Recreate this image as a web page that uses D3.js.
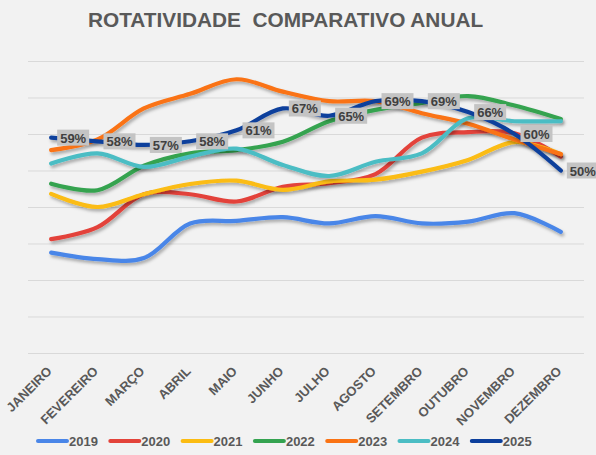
<!DOCTYPE html>
<html>
<head>
<meta charset="utf-8">
<script src="https://cdn.jsdelivr.net/npm/d3@7/dist/d3.min.js"></script>
<style>
  body { margin: 0; background: #f2f2f2; }
  text { font-family: "Liberation Sans", Arial, sans-serif; }
</style>
</head>
<body>
<div class="chart"></div>
<script>
// dados (%)
var meses = ['JANEIRO','FEVEREIRO','MARÇO','ABRIL','MAIO','JUNHO','JULHO','AGOSTO','SETEMBRO','OUTUBRO','NOVEMBRO','DEZEMBRO'];
var anos = ['2019','2020','2021','2022','2023','2024','2025'];
var v2019 = [27.5, 25.7, 26.0, 35.5, 36.2, 37.2, 35.5, 37.5, 35.5, 36.0, 38.3, 33.2];
var v2020 = [31.2, 34.5, 43.5, 43.5, 41.5, 45.5, 46.5, 49.0, 59.0, 60.5, 60.2, 53.8];
var v2021 = [43.6, 40.0, 43.5, 46.3, 47.2, 44.7, 47.0, 47.5, 49.7, 52.9, 57.8, 54.5];
var v2022 = [46.4, 44.6, 51.3, 54.7, 55.6, 57.9, 63.5, 66.6, 68.5, 70.4, 67.8, 64.1];
var v2023 = [55.6, 58.5, 67.0, 71.0, 75.0, 71.6, 69.0, 69.0, 65.7, 62.8, 58.5, 54.5];
var v2024 = [51.9, 54.7, 51.0, 53.8, 56.0, 51.5, 48.5, 52.4, 54.7, 64.3, 63.5, 63.5];
var v2025 = [59, 58, 57, 58, 61, 67, 65, 69, 69, 66, 60, 50];
var cores = ['#4a86e8','#e3433a','#fbbc12','#34a350','#fa7314','#4bbdc4','#0c3f9c'];
var yTicks = [0, 10, 20, 30, 40, 50, 60, 70, 80];

var series = [v2019, v2020, v2021, v2022, v2023, v2024, v2025];

var width = 596;
var height = 455;
var svg = d3.select('div.chart')
    .append('svg')
    .attr('width', width)
    .attr('height', height)
    .style('display', 'block')
    .style('background', '#f2f2f2');

var defs = svg.append('defs');
var f = defs.append('filter').attr('id', 'sombra')
    .attr('x', '-5%').attr('y', '-20%').attr('width', '110%').attr('height', '150%');
f.append('feDropShadow')
    .attr('dx', 1.5).attr('dy', 2.5).attr('stdDeviation', 1.6)
    .attr('flood-color', '#000').attr('flood-opacity', 0.3);

var xScale = d3.scalePoint()
    .domain(meses)
    .range([28, 584])
    .padding(0.5);
var yScale = d3.scaleLinear()
    .domain([0, 80])
    .range([353, 61]);

// titulo
svg.append('text')
    .attr('x', 88)
    .attr('y', 27)
    .attr('font-size', '20.8px')
    .attr('font-weight', 'bold')
    .attr('fill', '#595959')
    .style('white-space', 'pre')
    .text('ROTATIVIDADE  COMPARATIVO ANUAL');

// grade
svg.append('g')
    .selectAll('line')
    .data(yTicks)
    .enter()
    .append('line')
    .attr('x1', 28)
    .attr('x2', 584)
    .attr('y1', d => yScale(d) + 0.5)
    .attr('y2', d => yScale(d) + 0.5)
    .attr('stroke', '#d9d9d9')
    .attr('stroke-width', 1);

// eixo x
var eixo = svg.append('g')
    .attr('transform', 'translate(0,' + yScale(0) + ')')
    .call(d3.axisBottom(xScale).tickSize(0).tickPadding(0));
eixo.select('.domain').remove();
eixo.selectAll('text')
    .attr('font-size', '13px')
    .attr('font-weight', 'bold')
    .attr('fill', '#595959')
    .attr('text-anchor', 'end')
    .attr('y', 0)
    .attr('dy', 0)
    .attr('transform', 'translate(1,19) rotate(-45)');

// linhas
var linha = d3.line()
    .x((d, i) => xScale(meses[i]))
    .y(d => yScale(d))
    .curve(d3.curveCatmullRom.alpha(0.5));

svg.append('g')
    .selectAll('path')
    .data(series)
    .enter()
    .append('path')
    .attr('d', d => linha(d))
    .attr('fill', 'none')
    .attr('stroke', (d, i) => cores[i])
    .attr('stroke-width', 4.2)
    .attr('stroke-linecap', 'round')
    .attr('stroke-linejoin', 'round')
    .attr('filter', 'url(#sombra)');

// rotulos 2025
var rot = svg.append('g')
    .selectAll('g')
    .data(v2025)
    .enter()
    .append('g')
    .attr('transform', (d, i) => 'translate(' + (xScale(meses[i]) + 6) + ',' + yScale(d) + ')');
rot.append('rect')
    .attr('x', 0)
    .attr('y', -8)
    .attr('width', 32)
    .attr('height', 16)
    .attr('fill', '#c4c4c4');
rot.append('text')
    .attr('x', 16)
    .attr('y', 5)
    .attr('text-anchor', 'middle')
    .attr('font-size', '13px')
    .attr('font-weight', 'bold')
    .attr('fill', '#404040')
    .text(d => d + '%');

// legenda
var leg = svg.append('g')
    .selectAll('g')
    .data(anos)
    .enter()
    .append('g')
    .attr('transform', (d, i) => 'translate(' + (38 + i * 72.3) + ',441)');
leg.append('line')
    .attr('x1', 0)
    .attr('x2', 29)
    .attr('stroke', (d, i) => cores[i])
    .attr('stroke-width', 4)
    .attr('stroke-linecap', 'round');
leg.append('text')
    .attr('x', 31)
    .attr('y', 5)
    .attr('font-size', '13px')
    .attr('font-weight', 'bold')
    .attr('fill', '#595959')
    .text(d => d);
</script>
</body>
</html>
